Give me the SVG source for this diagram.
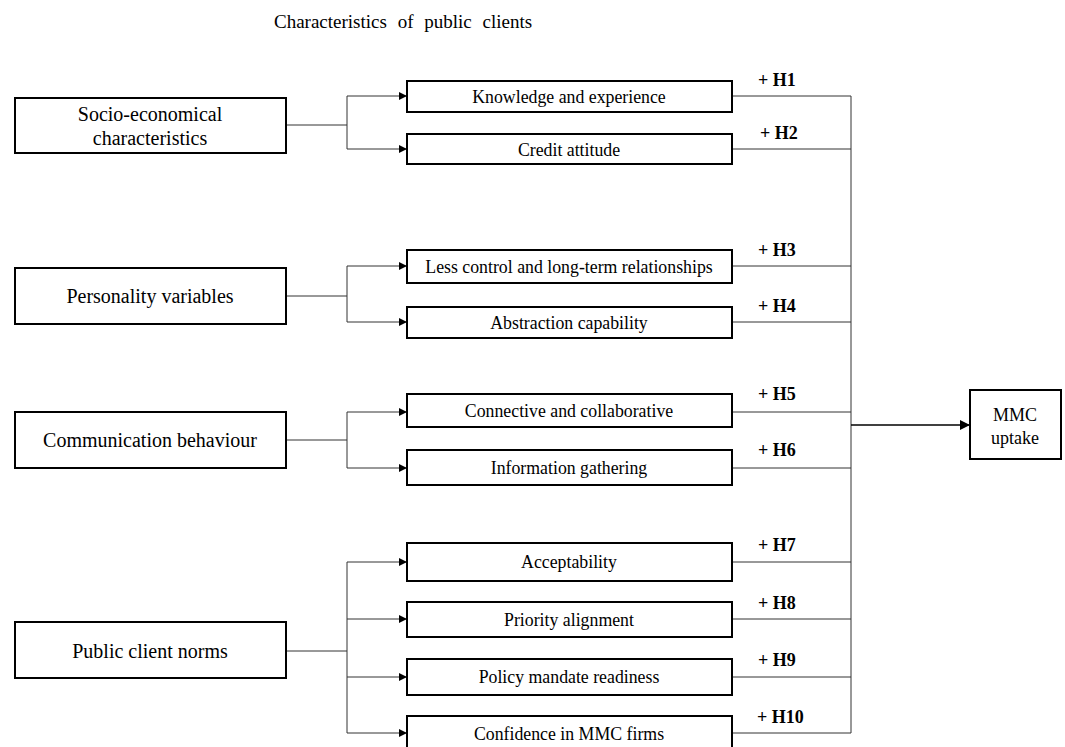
<svg xmlns="http://www.w3.org/2000/svg" width="1065" height="747" viewBox="0 0 1065 747">
<defs>
<marker id="arr" viewBox="0 0 10 10" refX="10" refY="5" markerWidth="9" markerHeight="8" markerUnits="userSpaceOnUse" orient="auto">
<path d="M0,0 L10,5 L0,10 Z" fill="#000"/>
</marker>
<marker id="arrBig" viewBox="0 0 10 10" refX="10" refY="5" markerWidth="11" markerHeight="10" markerUnits="userSpaceOnUse" orient="auto">
<path d="M0,0 L10,5 L0,10 Z" fill="#000"/>
</marker>
</defs>
<style>
.box{fill:#fff;stroke:#000;stroke-width:2}
.t{font-family:"Liberation Serif","Times New Roman",serif;fill:#000;text-anchor:middle}
.big{font-size:20px}
.mid{font-size:17.8px}
.h{font-family:"Liberation Serif","Times New Roman",serif;font-size:18px;font-weight:bold;fill:#000}
.c{fill:none;stroke:#333;stroke-width:1}
</style>
<rect width="1065" height="747" fill="#fff"/>
<text x="274" y="28" style="font-family:'Liberation Serif','Times New Roman',serif;font-size:19px;word-spacing:6px;fill:#000">Characteristics of public clients</text>

<g id="connectors">
<path class="c" d="M286,125 H347 M347,96 V149"/>
<path class="c" d="M347,96 H407" marker-end="url(#arr)"/>
<path class="c" d="M347,149 H407" marker-end="url(#arr)"/>
<path class="c" d="M286,296 H347 M347,266 V322"/>
<path class="c" d="M347,266 H407" marker-end="url(#arr)"/>
<path class="c" d="M347,322 H407" marker-end="url(#arr)"/>
<path class="c" d="M286,440 H347 M347,412 V468"/>
<path class="c" d="M347,412 H407" marker-end="url(#arr)"/>
<path class="c" d="M347,468 H407" marker-end="url(#arr)"/>
<path class="c" d="M286,651 H347 M347,562 V733"/>
<path class="c" d="M347,562 H407" marker-end="url(#arr)"/>
<path class="c" d="M347,619 H407" marker-end="url(#arr)"/>
<path class="c" d="M347,677 H407" marker-end="url(#arr)"/>
<path class="c" d="M347,733 H407" marker-end="url(#arr)"/>
<path class="c" d="M732,96 H851 M732,149 H851 M732,266 H851 M732,322 H851 M732,412 H851 M732,468 H851 M732,562 H851 M732,619 H851 M732,677 H851 M732,733 H851 M851,96 V733"/>
<path d="M851,425 H970" fill="none" stroke="#000" stroke-width="1.3" marker-end="url(#arrBig)"/>
</g>

<g id="socio">
<rect class="box" x="15" y="98" width="271" height="55"/>
<text class="t big" x="150" y="121">Socio-economical</text>
<text class="t big" x="150" y="145">characteristics</text>
</g>
<g id="personality">
<rect class="box" x="15" y="268" width="271" height="56"/>
<text class="t big" x="150" y="303">Personality  variables</text>
</g>
<g id="communication">
<rect class="box" x="15" y="412" width="271" height="56"/>
<text class="t big" x="150" y="447">Communication  behaviour</text>
</g>
<g id="norms">
<rect class="box" x="15" y="622" width="271" height="56"/>
<text class="t big" x="150" y="658">Public  client  norms</text>
</g>

<g id="knowledge">
<rect class="box" x="407" y="81" width="325" height="31"/>
<text class="t mid" x="569" y="103">Knowledge and experience</text>
</g>
<g id="credit">
<rect class="box" x="407" y="134" width="325" height="30"/>
<text class="t mid" x="569" y="156">Credit attitude</text>
</g>
<g id="lesscontrol">
<rect class="box" x="407" y="250" width="325" height="33"/>
<text class="t mid" x="569" y="273">Less control and long-term relationships</text>
</g>
<g id="abstraction">
<rect class="box" x="407" y="307" width="325" height="31"/>
<text class="t mid" x="569" y="329">Abstraction capability</text>
</g>
<g id="connective">
<rect class="box" x="407" y="394" width="325" height="33"/>
<text class="t mid" x="569" y="417">Connective and collaborative</text>
</g>
<g id="information">
<rect class="box" x="407" y="450" width="325" height="35"/>
<text class="t mid" x="569" y="474">Information gathering</text>
</g>
<g id="acceptability">
<rect class="box" x="407" y="543" width="325" height="38"/>
<text class="t mid" x="569" y="568">Acceptability</text>
</g>
<g id="priority">
<rect class="box" x="407" y="602" width="325" height="35"/>
<text class="t mid" x="569" y="626">Priority alignment</text>
</g>
<g id="policy">
<rect class="box" x="407" y="659" width="325" height="36"/>
<text class="t mid" x="569" y="683">Policy mandate readiness</text>
</g>
<g id="confidence">
<rect class="box" x="407" y="716" width="325" height="40"/>
<text class="t mid" x="569" y="740">Confidence in MMC firms</text>
</g>

<g id="mmc">
<rect class="box" x="970" y="390" width="91" height="69"/>
<text class="t" x="1015" y="421" style="font-size:18px">MMC</text>
<text class="t" x="1015" y="444" style="font-size:18px">uptake</text>
</g>

<g id="labels">
<text class="h" x="758" y="86">+ H1</text>
<text class="h" x="760" y="139">+ H2</text>
<text class="h" x="758" y="256">+ H3</text>
<text class="h" x="758" y="312">+ H4</text>
<text class="h" x="758" y="400">+ H5</text>
<text class="h" x="758" y="456">+ H6</text>
<text class="h" x="758" y="551">+ H7</text>
<text class="h" x="758" y="609">+ H8</text>
<text class="h" x="758" y="666">+ H9</text>
<text class="h" x="757" y="723">+ H10</text>
</g>
</svg>
